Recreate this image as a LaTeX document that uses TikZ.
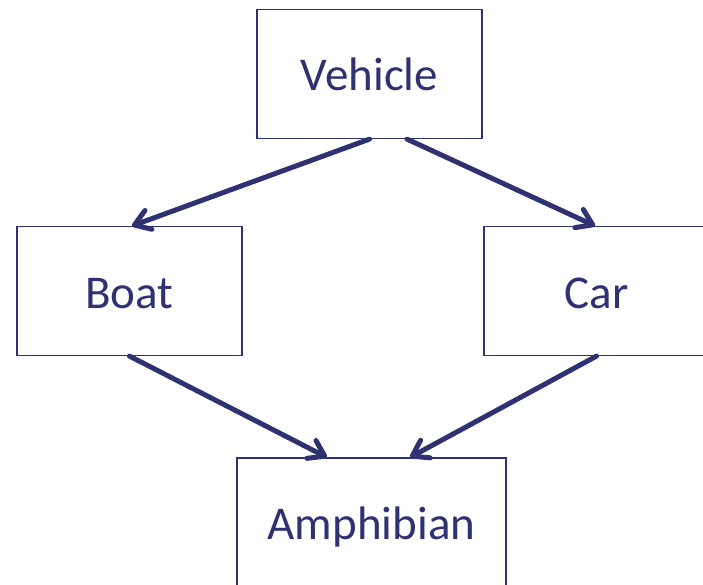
\documentclass[tikz,border=0pt]{standalone}
\usepackage{fontspec}
\setmainfont{Carlito}
\usetikzlibrary{arrows.meta}
\definecolor{navy}{RGB}{46,49,114}
\tikzset{
  box/.style={draw=navy, line width=1.2bp, fill=white, minimum width=225bp, minimum height=129bp,
    inner sep=0pt, text height=40bp, text depth=6bp,
    font=\fontsize{47bp}{54bp}\selectfont, text=navy},
  link/.style={draw=navy, line width=5bp, line cap=round,
    -{Straight Barb[length=15bp, width=20bp, round, line width=5bp]}}
}
\begin{document}
\begin{tikzpicture}[x=1bp, y=-1bp]
\useasboundingbox (0,0) rectangle (703,585);
\clip (0,0) rectangle (703,585);
\node[box] (veh) at (369.5,74) {Vehicle};
\node[box] (boat) at (129.5,291) {Boat};
\node[box] (car) at (596.5,291) {Car};
\node[box, minimum width=269bp, minimum height=128bp] (amph) at (371.5,522) {Amphibian};
\draw[link] (veh.south) -- ([xshift=2.5bp]boat.north);
\draw[link] ([xshift=37.5bp]veh.south) -- ([xshift=-1.5bp]car.north);
\draw[link] (boat.south) -- ([xshift=-44.5bp]amph.north);
\draw[link] (car.south) -- ([xshift=38.5bp]amph.north);
\end{tikzpicture}
\end{document}
